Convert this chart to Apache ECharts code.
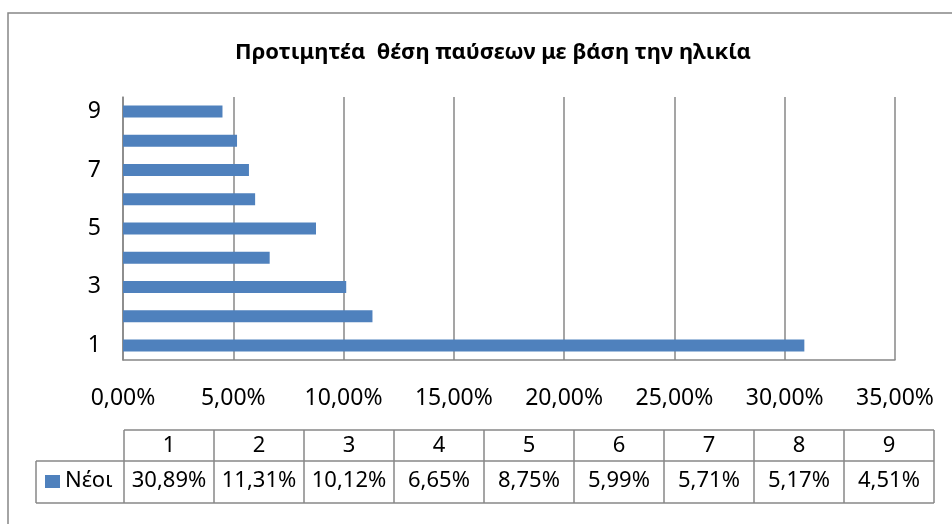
<!DOCTYPE html>
<html>
<head>
    <meta charset="UTF-8">
    <title></title>
    <script src="https://cdn.jsdelivr.net/npm/echarts@6/dist/echarts.min.js"></script>
</head>
<style type="text/css">
    html, body { margin: 0; padding: 0; background: #fff; }
    #main { width: 952px; height: 524px; }
</style>
<body>
    <div id="main"></div>
</body>
<script>
    var categories = ['1', '2', '3', '4', '5', '6', '7', '8', '9'];
    var seriesName = 'Νέοι';
    var values = [0.3089, 0.1131, 0.1012, 0.0665, 0.0875, 0.0599, 0.0571, 0.0517, 0.0451];
    var titleText = 'Προτιμητέα  θέση παύσεων με βάση την ηλικία';

    var FONT = '"Noto Sans", sans-serif';
    var GRID_COLOR = '#878787';
    var BAR_COLOR = '#4F81BD';

    function pct(v) {
        return (v * 100).toFixed(2).replace('.', ',') + '%';
    }

    // data table under the chart
    var tblLeft = 124, tblRight = 934, legLeft = 36;
    var rowTop = 430, rowMid = 461, rowBot = 503;
    var colW = (tblRight - tblLeft) / categories.length;
    var lineStyle = { stroke: GRID_COLOR, lineWidth: 1.5 };
    var cellFont = '22px ' + FONT;
    var graphics = [];

    graphics.push({ type: 'rect', shape: { x: 8, y: 13, width: 1000, height: 600 },
        style: { fill: 'none', stroke: GRID_COLOR, lineWidth: 1.5 }, silent: true });
    graphics.push({ type: 'line', shape: { x1: tblLeft, y1: rowTop, x2: tblRight, y2: rowTop }, style: lineStyle });
    graphics.push({ type: 'line', shape: { x1: legLeft, y1: rowMid, x2: tblRight, y2: rowMid }, style: lineStyle });
    graphics.push({ type: 'line', shape: { x1: legLeft, y1: rowBot, x2: tblRight, y2: rowBot }, style: lineStyle });
    graphics.push({ type: 'line', shape: { x1: legLeft, y1: rowMid, x2: legLeft, y2: rowBot }, style: lineStyle });
    for (var i = 0; i <= categories.length; i++) {
        var x = tblLeft + i * colW;
        graphics.push({ type: 'line', shape: { x1: x, y1: rowTop, x2: x, y2: rowBot }, style: lineStyle });
    }
    for (var j = 0; j < categories.length; j++) {
        var cx = tblLeft + (j + 0.5) * colW;
        graphics.push({ type: 'text', x: cx, y: 446,
            style: { text: categories[j], fill: '#000', font: cellFont, align: 'center', verticalAlign: 'middle' } });
        graphics.push({ type: 'text', x: cx, y: 481,
            style: { text: pct(values[j]), fill: '#000', font: cellFont, align: 'center', verticalAlign: 'middle' } });
    }
    graphics.push({ type: 'rect', shape: { x: 45, y: 475, width: 15, height: 13 }, style: { fill: BAR_COLOR } });
    graphics.push({ type: 'text', x: 65, y: 481,
        style: { text: seriesName, fill: '#000', font: cellFont, align: 'left', verticalAlign: 'middle' } });

    var myChart = echarts.init(document.getElementById('main'));
    var option = {
        animation: false,
        backgroundColor: '#fff',
        title: {
            text: titleText,
            left: 488,
            top: 37,
            textAlign: 'center',
            textStyle: { fontFamily: FONT, fontSize: 22, fontWeight: 'bold', color: '#000' }
        },
        grid: { left: 123, right: 57, top: 97, bottom: 164, containLabel: false },
        xAxis: {
            type: 'value',
            min: 0,
            max: 0.35,
            interval: 0.05,
            axisLine: { show: true, lineStyle: { color: GRID_COLOR, width: 1.5 } },
            axisTick: { show: false },
            splitLine: { show: true, lineStyle: { color: GRID_COLOR, width: 1.5 } },
            axisLabel: { margin: 27, color: '#000', fontFamily: FONT, fontSize: 23,
                formatter: function (v) { return pct(v); } }
        },
        yAxis: {
            type: 'category',
            data: categories,
            axisLine: { show: true, lineStyle: { color: GRID_COLOR, width: 1.5 } },
            axisTick: { show: false },
            axisLabel: { interval: 1, margin: 22, color: '#000', fontFamily: FONT, fontSize: 23 }
        },
        series: [{
            name: seriesName,
            type: 'bar',
            data: values,
            barWidth: 12,
            itemStyle: { color: BAR_COLOR }
        }],
        graphic: graphics
    };
    myChart.setOption(option);
</script>
</html>
